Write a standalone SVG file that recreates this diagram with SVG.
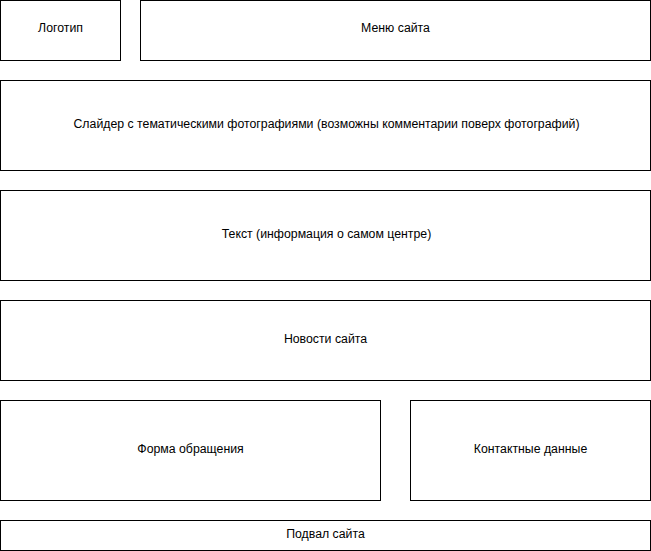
<svg xmlns="http://www.w3.org/2000/svg" width="651" height="551" viewBox="0 0 651 551">
<style>
.b{fill:#fff;stroke:#000;stroke-width:1}
.t{font-family:"Liberation Sans",Arial,sans-serif;font-size:12.3px;fill:#000;text-anchor:middle;dominant-baseline:central}
</style>
<rect width="651" height="551" fill="#fff"/>
<g id="connectors"></g>
<g id="logo"><rect class="b" x="0.5" y="0.5" width="120" height="60"/><text class="t" x="60.5" y="28.2">Логотип</text></g>
<g id="menu"><rect class="b" x="140.5" y="0.5" width="510" height="60"/><text class="t" x="395.5" y="28.2">Меню сайта</text></g>
<g id="slider"><rect class="b" x="0.5" y="80.5" width="650" height="90"/><text class="t" x="326.5" y="123.5">Слайдер с тематическими фотографиями (возможны комментарии поверх фотографий)</text></g>
<g id="text"><rect class="b" x="0.5" y="190.5" width="650" height="90"/><text class="t" x="326.5" y="233.5">Текст (информация о самом центре)</text></g>
<g id="news"><rect class="b" x="0.5" y="300.5" width="650" height="80"/><text class="t" x="325.5" y="338.5">Новости сайта</text></g>
<g id="form"><rect class="b" x="0.5" y="400.5" width="380" height="100"/><text class="t" x="190.5" y="448.5">Форма обращения</text></g>
<g id="contacts"><rect class="b" x="410.5" y="400.5" width="240" height="100"/><text class="t" x="530.5" y="448.5">Контактные данные</text></g>
<g id="footer"><rect class="b" x="0.5" y="520.5" width="650" height="30"/><text class="t" x="325.5" y="533.5">Подвал сайта</text></g>
</svg>
